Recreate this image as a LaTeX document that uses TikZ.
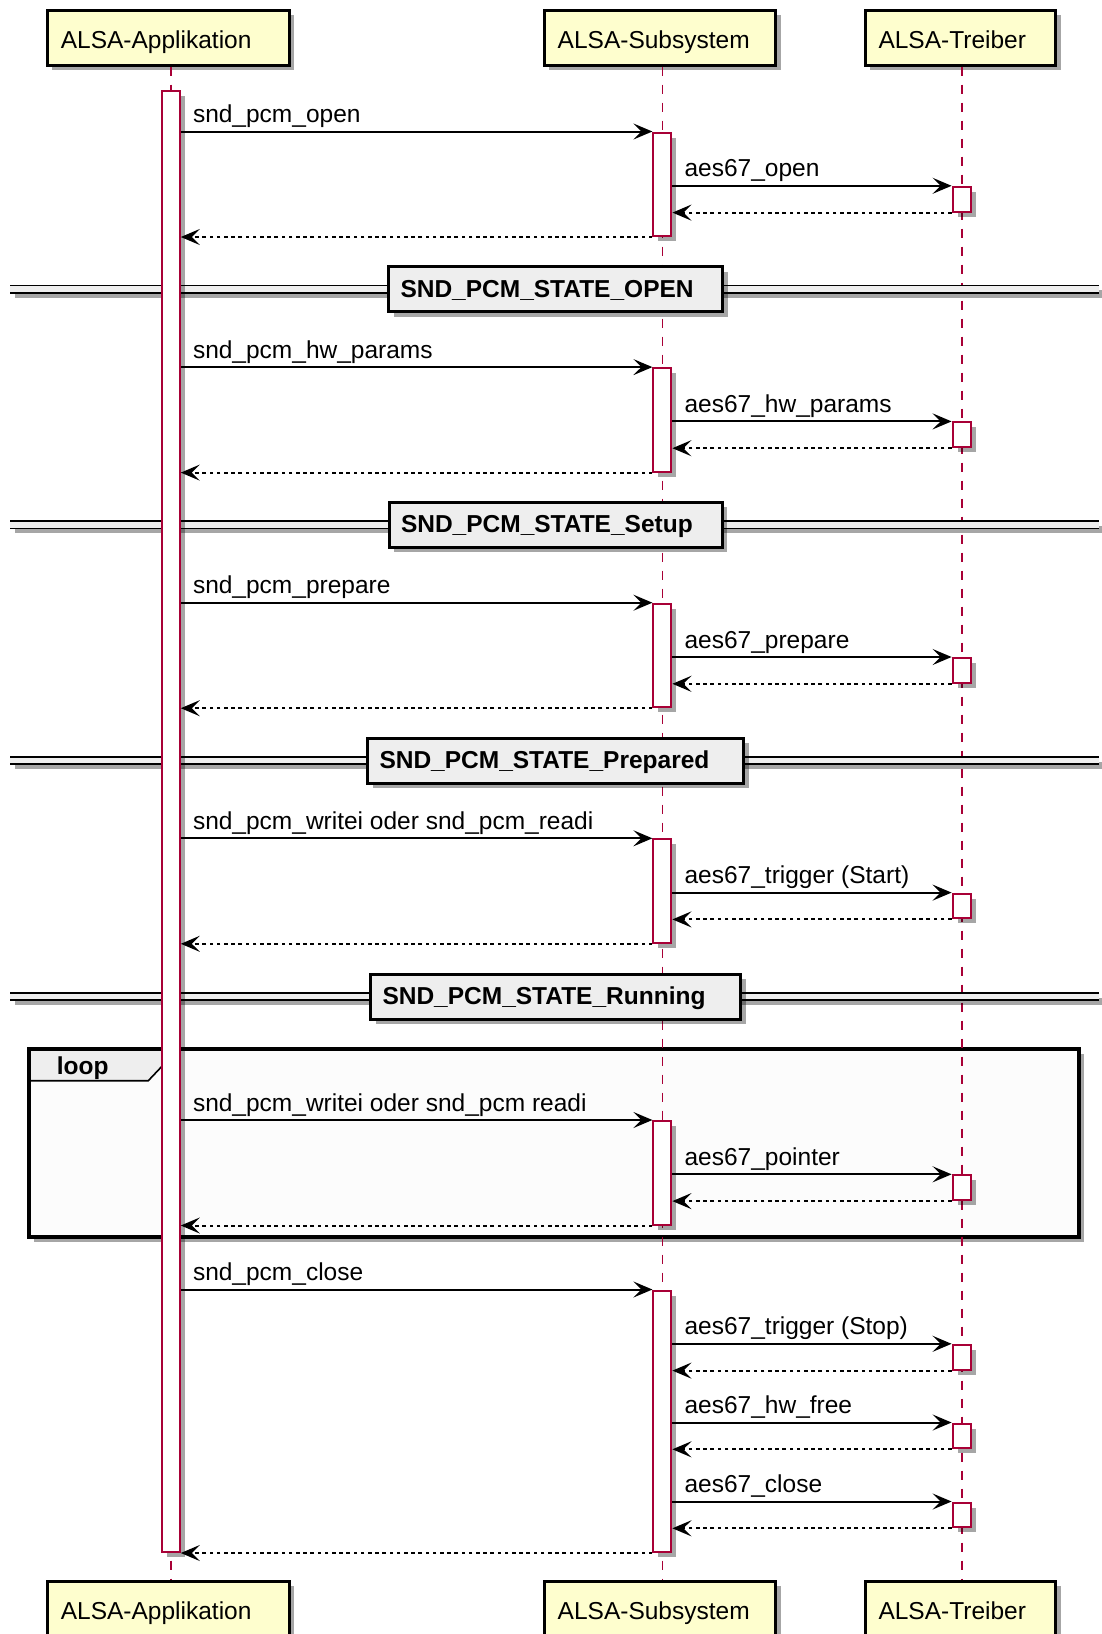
\documentclass[tikz,border=0pt]{standalone}
\usepackage{fontspec}
\setmainfont{Liberation Sans}
\usetikzlibrary{arrows.meta,shadows}
\definecolor{partfill}{HTML}{FEFECE}
\definecolor{actred}{HTML}{A80036}
\definecolor{divfill}{HTML}{EEEEEE}
\definecolor{loopfill}{HTML}{FCFCFC}
\newcommand{\fsz}{\fontsize{24.5}{29}\selectfont}
\tikzset{
 shad/.style={drop shadow={shadow xshift=5pt, shadow yshift=-5pt, opacity=0.35, fill=black}},
 part/.style={draw=black, line width=3pt, fill=partfill, text width=#1, align=left,
   inner xsep=13.5pt, inner ysep=0pt, minimum height=55pt, text height=21.6pt, text depth=0pt,
   anchor=west, shad},
 act/.style={draw=actred, line width=2pt, fill=white, minimum width=18pt, minimum height=#1,
   inner sep=0pt, anchor=north, shad},
 divbox/.style={draw=black, line width=3pt, fill=divfill, text width=#1, align=left,
   font=\fsz\bfseries, inner xsep=12pt, inner ysep=0pt, minimum height=45pt,
   text height=16pt, text depth=0pt, anchor=west, shad},
 life/.style={draw=actred, line width=1.8pt, dash pattern=on 9pt off 9pt},
 msgtip/.tip={Stealth[length=19pt,width=16pt,inset=8pt]},
 msg/.style={-msgtip, line width=2pt, draw=black},
 ret/.style={msg, dash pattern=on 3.6pt off 3.6pt},
 lbl/.style={anchor=base west, inner sep=0pt},
}
% standard block: #1 id, #2 Y, #3 upper label, #4 lower label
\newcommand{\seqblock}[4]{%
 \node[act=103.5pt] (s#1) at (662.4,#2) {};
 \node[act=24.8pt] (t#1) at (961.6,#2+54.3) {};
 \draw[msg] (aact.east |- s#1.north) -- (s#1.north west);
 \node[lbl] (ml#1) at ([xshift=12pt,yshift=9pt]aact.east |- s#1.north) {#3};
 \draw[msg] (s#1.east |- t#1.north) -- (t#1.north west);
 \node[lbl] (nl#1) at ([xshift=12pt,yshift=9pt]s#1.east |- t#1.north) {#4};
 \draw[ret] (t#1.south west) -- (s#1.east |- t#1.south);
 \draw[ret] (s#1.south west) -- (aact.east |- s#1.south);
}
% state divider: #1 id, #2 y, #3 left x, #4 text width, #5 text
\newcommand{\stateline}[5]{%
 \path[fill=divfill, shad] (10,#2-3.6) rectangle (1099,#2+3.6);
 \draw[line width=1.8pt] (10,#2-3.6) -- (1099,#2-3.6) (10,#2+3.6) -- (1099,#2+3.6);
 \node[divbox=#4] (d#1) at (#3,#2) {#5};
}
\begin{document}
\begin{tikzpicture}[x=1pt, y=-1pt, every node/.style={font=\fsz}]
\fill[white] (0,0) rectangle (1101,1634);
\useasboundingbox (0,0) rectangle (1101,1634);

% loop frame
\path[fill=loopfill, shad] (29,1048.7) rectangle (1078.5,1236.5);
\draw[line width=1.6pt, fill=divfill] (29,1048.7) -- (165.7,1048.7) -- (165.7,1062.3)
  -- (148.3,1080.7) -- (29,1080.7) -- cycle;
\draw[line width=4pt] (29,1048.7) rectangle (1078.5,1236.5);
\node[lbl, font=\fsz\bfseries] (looplbl) at (56.7,1074.3) {loop};

% participants
\node[part=214.7pt] (appT) at (45.8,37.5) {ALSA-Applikation};
\node[part=204.3pt] (subT) at (542.7,37.5) {ALSA-Subsystem};
\node[part=163.5pt] (trT) at (863.5,37.5) {ALSA-Treiber};
\node[part=214.7pt] (appB) at (45.8,1608.5) {ALSA-Applikation};
\node[part=204.3pt] (subB) at (542.7,1608.5) {ALSA-Subsystem};
\node[part=163.5pt] (trB) at (863.5,1608.5) {ALSA-Treiber};

% lifelines
\coordinate (xS) at (662.4,0);
\coordinate (xT) at (961.6,0);
\coordinate (xA) at (170.8,0);
\draw[life] (xA |- appT.south) -- (xA |- appB.north);
\draw[life] (xS |- subT.south) -- (xS |- subB.north);
\draw[life] (xT |- trT.south) -- (xT |- trB.north);

% dividers
\stateline{1}{289}{387}{310pt}{SND\_PCM\_STATE\_OPEN}
\stateline{2}{524.8}{387.5}{309.3pt}{SND\_PCM\_STATE\_Setup}
\stateline{3}{760.6}{366}{352pt}{SND\_PCM\_STATE\_Prepared}
\stateline{4}{996.5}{369}{346pt}{SND\_PCM\_STATE\_Running}

% application activation
\node[act=1461pt] (aact) at (170.8,90) {};

% message blocks
\seqblock{1}{131.5}{snd\_pcm\_open}{aes67\_open}
\seqblock{2}{367.1}{snd\_pcm\_hw\_params}{aes67\_hw\_params}
\seqblock{3}{602.7}{snd\_pcm\_prepare}{aes67\_prepare}
\seqblock{4}{838.3}{snd\_pcm\_writei oder snd\_pcm\_readi}{aes67\_trigger (Start)}
\seqblock{5}{1120}{snd\_pcm\_writei oder snd\_pcm readi}{aes67\_pointer}

% closing block
\node[act=261.5pt] (s6) at (662.4,1289.5) {};
\node[act=24.8pt] (t6a) at (961.6,1343.8) {};
\node[act=24.8pt] (t6b) at (961.6,1422.5) {};
\node[act=24.8pt] (t6c) at (961.6,1501.5) {};
\draw[msg] (aact.east |- s6.north) -- (s6.north west);
\node[lbl] (ml6) at ([xshift=12pt,yshift=9pt]aact.east |- s6.north) {snd\_pcm\_close};
\foreach \t/\txt in {t6a/aes67\_trigger (Stop), t6b/aes67\_hw\_free, t6c/aes67\_close}{
  \draw[msg] (s6.east |- \t.north) -- (\t.north west);
  \node[lbl] (l\t) at ([xshift=12pt,yshift=9pt]s6.east |- \t.north) {\txt};
  \draw[ret] (\t.south west) -- (s6.east |- \t.south);
}
\draw[ret] (s6.south west) -- (aact.south east);
\end{tikzpicture}
\end{document}
